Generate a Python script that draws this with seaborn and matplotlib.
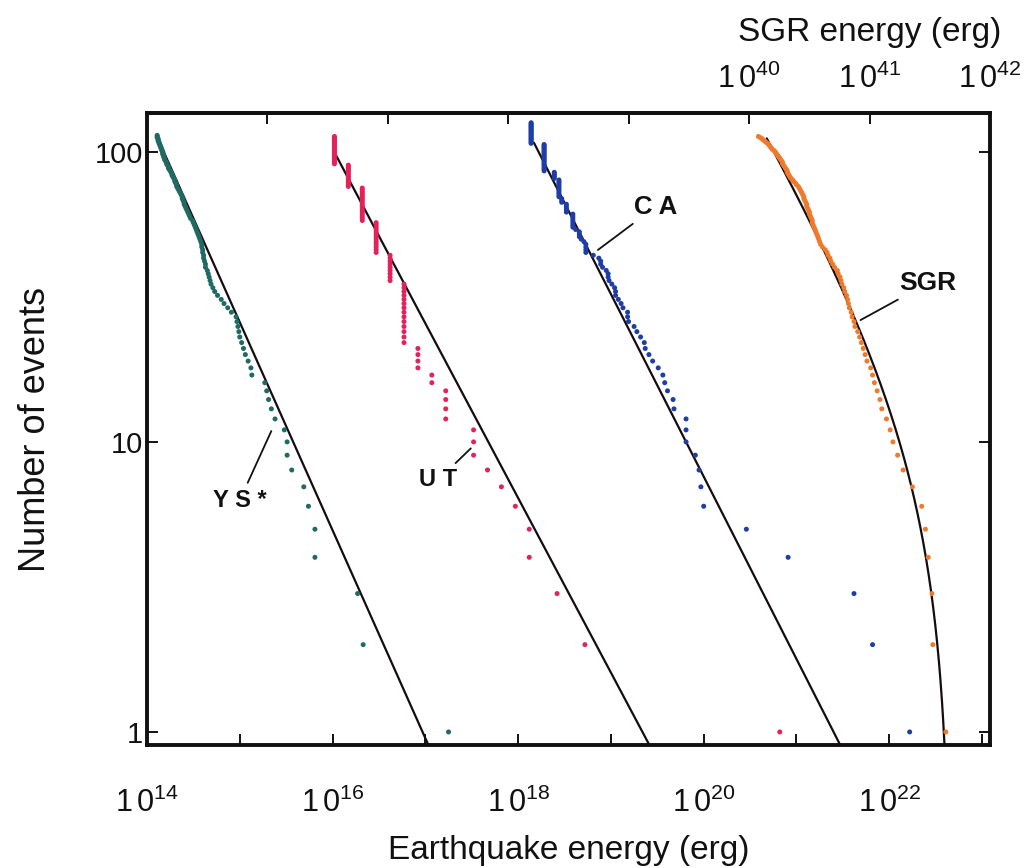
import numpy as np
import pandas as pd
import matplotlib
matplotlib.use("Agg")
import matplotlib.pyplot as plt
import seaborn as sns
from matplotlib.ticker import FixedLocator, FixedFormatter, NullLocator

# ---------------- data (log10 energy, largest event first -> rank = cumulative count) -------------
ys_logE = [17.25, 16.33, 16.27, 15.81, 15.81, 15.74, 15.69, 15.56, 15.51, 15.51,
           15.48, 15.38, 15.34, 15.31, 15.29, 15.27, 15.13, 15.12, 15.09, 15.06,
           15.04, 15.02, 15.00, 14.99, 14.98, 14.97, 14.96, 14.91, 14.87, 14.83,
           14.80, 14.76, 14.73, 14.71, 14.69, 14.68, 14.67, 14.66, 14.65, 14.63,
           14.63, 14.62, 14.61, 14.61, 14.60, 14.60, 14.59, 14.59, 14.58, 14.57,
           14.56, 14.55, 14.54, 14.53, 14.52, 14.51, 14.50, 14.49, 14.47, 14.46,
           14.45, 14.44, 14.43, 14.42, 14.41, 14.40, 14.40, 14.39, 14.38, 14.38,
           14.37, 14.36, 14.35, 14.34, 14.33, 14.32, 14.32, 14.31, 14.30, 14.30,
           14.29, 14.28, 14.27, 14.27, 14.26, 14.25, 14.24, 14.23, 14.23, 14.22,
           14.21, 14.21, 14.20, 14.19, 14.19, 14.18, 14.18, 14.17, 14.17, 14.17,
           14.16, 14.16, 14.15, 14.15, 14.14, 14.14, 14.13, 14.13, 14.12, 14.12,
           14.12, 14.11, 14.11, 14.11]

# UT: magnitudes quantised -> energy levels with number of events at each level
ut_levels = [20.82, 18.72, 18.42, 18.12, 17.97, 17.82, 17.67, 17.52, 17.22, 17.07,
             16.92, 16.77, 16.62, 16.47, 16.32, 16.17, 16.02]
ut_mult = [1, 1, 1, 2, 1, 1, 1, 3, 4, 2, 4, 14, 9, 13, 18, 15, 23]

ca_levels = [22.22, 21.82, 21.62, 20.91, 20.46, 20.00, 19.97, 19.95, 19.91, 19.81,
             19.68, 19.67, 19.61, 19.58, 19.56, 19.51, 19.45, 19.41, 19.37, 19.36,
             19.32, 19.28, 19.25, 19.19, 19.18, 19.13, 19.11, 19.08, 19.05, 19.04,
             19.01, 18.98, 18.97, 18.95, 18.91, 18.89, 18.87, 18.81, 18.73, 18.71,
             18.68, 18.66, 18.62, 18.59, 18.52, 18.47, 18.44, 18.39, 18.28, 18.14]
ca_mult = [1, 1, 1, 1, 1, 1, 1, 1, 1, 3,
           1, 1, 1, 1, 1, 1, 1, 1, 1, 1,
           1, 1, 1, 1, 2, 1, 1, 1, 2, 1,
           1, 1, 2, 1, 1, 2, 1, 1, 4, 1,
           1, 3, 1, 7, 5, 3, 11, 5, 21, 20]

# SGR bursts, placed on the earthquake-energy (bottom) scale
sgr_logE = [22.61, 22.47, 22.46, 22.42, 22.39, 22.35, 22.25, 22.15, 22.09, 22.04,
            22.01, 21.97, 21.92, 21.90, 21.87, 21.84, 21.82, 21.80, 21.76, 21.74,
            21.72, 21.70, 21.68, 21.66, 21.63, 21.62, 21.60, 21.59, 21.57, 21.56,
            21.55, 21.54, 21.52, 21.51, 21.49, 21.48, 21.47, 21.45, 21.44, 21.41,
            21.39, 21.37, 21.36, 21.34, 21.33, 21.31, 21.28, 21.26, 21.25, 21.24,
            21.23, 21.22, 21.21, 21.20, 21.19, 21.18, 21.17, 21.17, 21.16, 21.15,
            21.14, 21.14, 21.13, 21.12, 21.11, 21.11, 21.10, 21.09, 21.08, 21.08,
            21.07, 21.06, 21.05, 21.04, 21.03, 21.02, 21.00, 20.99, 20.97, 20.96,
            20.94, 20.93, 20.92, 20.91, 20.90, 20.90, 20.89, 20.88, 20.87, 20.86,
            20.85, 20.85, 20.84, 20.83, 20.82, 20.81, 20.80, 20.79, 20.78, 20.77,
            20.76, 20.74, 20.73, 20.72, 20.71, 20.70, 20.69, 20.67, 20.66, 20.64,
            20.63, 20.61, 20.59]

# power-law fits: log10 N = -b (log10 E - logE_at_N1), drawn from logE_start
ys_fit = dict(b=0.717, e1=16.97, start=14.10)
ut_fit = dict(b=0.602, e1=19.34, start=16.02)
ca_fit = dict(b=0.629, e1=21.40, start=18.17)
# SGR: truncated power law N = A (E^-b - Emax^-b)
sgr_fit = dict(A=9.8, b=0.55, emax=22.665, start=20.68)

x_label_exps = [14, 16, 18, 20, 22]
top_label_exps = [40, 41, 42]
y_ticks = [1, 10, 100]
y_tick_labels = ["1", "10", "100"]

colors = {"YS": "#1f6a63", "UT": "#e5215c", "CA": "#1f3da6", "SGR": "#f07a2c"}

# ---------------- build tables ----------------
rows = []
def add(name, logE):
    logE = np.asarray(logE, dtype=float)
    for i, v in enumerate(logE):
        rows.append(dict(catalog=name, energy=10 ** v, count=i + 1))

add("YS", ys_logE)
add("UT", np.repeat(ut_levels, ut_mult))
add("CA", np.repeat(ca_levels, ca_mult))
add("SGR", sgr_logE)
df = pd.DataFrame(rows)

XMAX_LOG = 23.086
YMIN_LOG, YMAX_LOG = -0.045, 2.134

fit_rows = []
for name, f in [("YS", ys_fit), ("UT", ut_fit), ("CA", ca_fit)]:
    t = np.linspace(f["start"], f["e1"] + 0.2 / f["b"], 200)
    for tt in t:
        fit_rows.append(dict(catalog=name, energy=10 ** tt, count=10 ** (-f["b"] * (tt - f["e1"]))))
t = np.linspace(sgr_fit["start"], sgr_fit["emax"] - 0.004, 600)
for tt in t:
    n = sgr_fit["A"] * (10 ** (-sgr_fit["b"] * (tt - sgr_fit["emax"])) - 1)
    fit_rows.append(dict(catalog="SGR", energy=10 ** tt, count=n))
fit_df = pd.DataFrame(fit_rows)

# ---------------- plot ----------------
sns.set_theme(style="white")
plt.rcParams["font.family"] = ["Liberation Sans", "DejaVu Sans"]
plt.rcParams["mathtext.fontset"] = "custom"
plt.rcParams["mathtext.rm"] = "Liberation Sans"
plt.rcParams["mathtext.it"] = "Liberation Sans:italic"
plt.rcParams["mathtext.bf"] = "Liberation Sans:bold"

fig = plt.figure(figsize=(10.25, 8.68), dpi=100)
ax = fig.add_axes([147 / 1025, 1 - 745 / 868, (990 - 147) / 1025, (745 - 113) / 868])
ax.set_xscale("log")
ax.set_yscale("log")

for name in ["YS", "UT", "CA", "SGR"]:
    sns.lineplot(data=fit_df[fit_df.catalog == name], x="energy", y="count", sort=False,
                 estimator=None, color="#140c10", lw=1.6, ax=ax, legend=False, zorder=2)

sns.scatterplot(data=df, x="energy", y="count", hue="catalog", palette=colors,
                s=13, linewidth=0, legend=False, ax=ax, zorder=3)

ax.set_xlim(1e14, 10 ** XMAX_LOG)
ax.set_ylim(10 ** YMIN_LOG, 10 ** YMAX_LOG)

xt = [10.0 ** k for k in range(14, 24)]
xl = [r"$\mathregular{1\,0^{%d}}$" % k if k in x_label_exps else "" for k in range(14, 24)]
ax.xaxis.set_major_locator(FixedLocator(xt))
ax.xaxis.set_major_formatter(FixedFormatter(xl))
ax.xaxis.set_minor_locator(NullLocator())
ax.yaxis.set_major_locator(FixedLocator(y_ticks))
ax.yaxis.set_major_formatter(FixedFormatter(y_tick_labels))
ax.yaxis.set_minor_locator(NullLocator())

ax.tick_params(axis="x", which="major", direction="in", length=8, width=1.4,
               labelsize=22, pad=31, top=False, bottom=True, colors="#111111")
ax.tick_params(axis="y", which="major", direction="in", length=8, width=1.4,
               labelsize=21, pad=3, left=True, right=True, colors="#111111")
for s in ax.spines.values():
    s.set_linewidth(2.8)
    s.set_color("#111111")

def eq_to_sgr(x):
    x = np.clip(np.asarray(x, dtype=float), 1e-300, None)
    return 10 ** (35 + (np.log10(x) - 14) * 7 / (XMAX_LOG - 14))

def sgr_to_eq(x):
    x = np.clip(np.asarray(x, dtype=float), 1e-300, None)
    return 10 ** (14 + (np.log10(x) - 35) * (XMAX_LOG - 14) / 7)

secax = ax.secondary_xaxis("top", functions=(eq_to_sgr, sgr_to_eq))
tt_ = [10.0 ** k for k in range(35, 43)]
tl_ = [r"$\mathregular{1\,0^{%d}}$" % k if k in top_label_exps else "" for k in range(35, 43)]
secax.xaxis.set_major_locator(FixedLocator(tt_))
secax.xaxis.set_major_formatter(FixedFormatter(tl_))
secax.xaxis.set_minor_locator(NullLocator())
secax.tick_params(axis="x", direction="in", length=8, width=1.4, labelsize=22, pad=13,
                  colors="#111111")
secax.spines["top"].set_linewidth(2.8)
fig.text(870 / 1025, 1 - 32 / 868, "SGR energy (erg)", fontsize=24, color="#111111",
         ha="center", va="center")

ax.set_xlabel("Earthquake energy (erg)", fontsize=24, color="#111111", labelpad=11)
ax.set_ylabel("Number of events", fontsize=26, color="#111111", labelpad=30)

ann = dict(arrowstyle="-", lw=1.3, color="#111111", shrinkA=2, shrinkB=0)
labels = [
    ("C A", (10 ** 18.86, 45.9), (10 ** 19.48, 64.6), 18.5),
    ("SGR", (10 ** 21.69, 26.3), (10 ** 22.42, 35.3), 19),
    ("U T", (10 ** 17.49, 9.5), (10 ** 17.14, 7.4), 17),
    ("Y S *", (10 ** 15.34, 10.9), (10 ** 15.00, 6.3), 17),
]
for txt, xy, xyt, fs in labels:
    ax.annotate(txt, xy=xy, xytext=xyt, textcoords="data", ha="center", va="center",
                fontsize=fs, fontweight="bold", color="#111111", arrowprops=ann, zorder=4)

fig.savefig("out.png", dpi=100)
